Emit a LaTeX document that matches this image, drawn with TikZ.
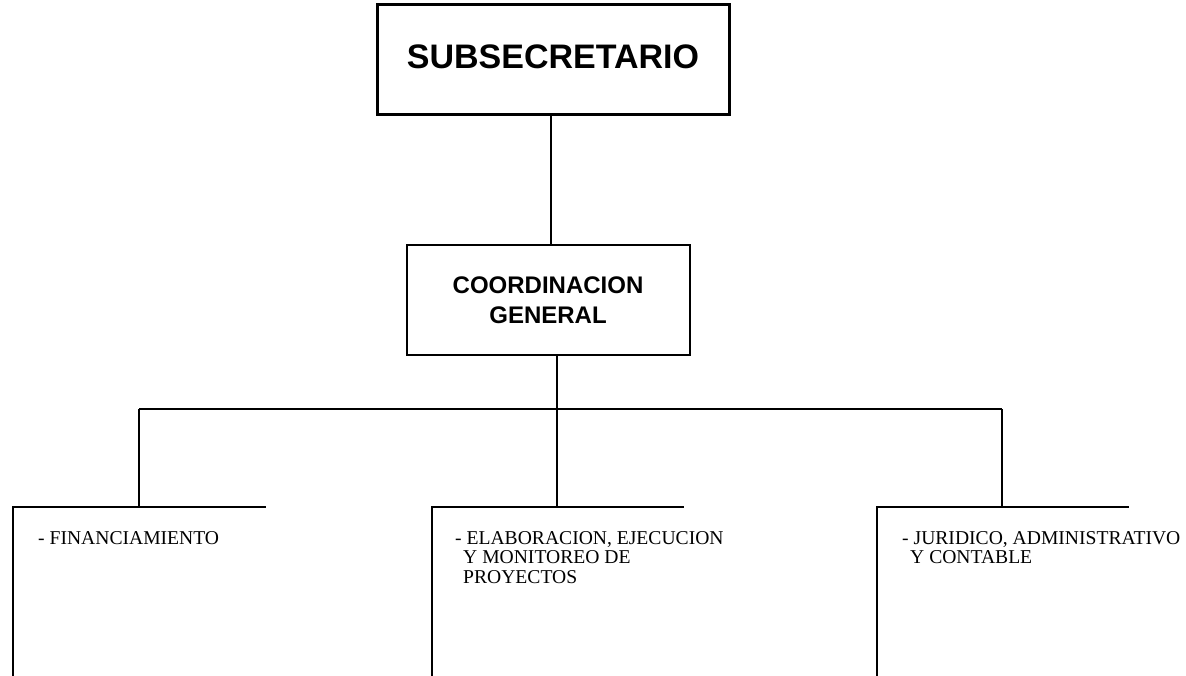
\documentclass[tikz,border=0pt]{standalone}
\usepackage{fontspec}
\setmainfont{Liberation Serif}
\newfontfamily\arialfont{Liberation Sans}
\begin{document}
\begin{tikzpicture}[x=1pt,y=-1pt,
  topbox/.style={draw, rectangle, inner sep=0pt, align=center},
  conn/.style={line width=2pt},
  unit/.style={line width=2pt, line cap=rect},
  unittext/.style={anchor=north west, inner sep=0pt, align=left, font=\fontsize{19.6}{19.7}\selectfont}]
\useasboundingbox (0,0) rectangle (1186,675);
\node[topbox, line width=3pt, minimum width=352pt, minimum height=110pt,
  font=\arialfont\bfseries\fontsize{34}{40}\selectfont] (sub) at (553,59)
  {\raisebox{4pt}{SUBSECRETARIO}};
\node[topbox, line width=2pt, minimum width=283pt, minimum height=110pt,
  font=\arialfont\bfseries\fontsize{24}{30}\selectfont] (coord) at (548,300)
  {COORDINACION\\GENERAL};
% connectors
\coordinate (subout) at (551,114);
\draw[conn] (subout) -- (subout |- coord.north);
\coordinate (coordout) at (557,355);
\coordinate (lbar) at (139,409);
\coordinate (rbar) at (1002,409);
\coordinate (fin) at (139,507);
\coordinate (ela) at (557,507);
\coordinate (jur) at (1002,507);
\draw[conn] (coordout) -- (ela);
\draw[conn] (lbar) -- (rbar);
\draw[conn] (lbar) -- (fin);
\draw[conn] (rbar) -- (jur);
% lower units
\draw[unit] (13,675) -- (13,507) -- (265,507);
\draw[unit] (432,675) -- (432,507) -- (683,507);
\draw[unit] (877,675) -- (877,507) -- (1128,507);
\node[unittext] (t1) at (38,531) {- FINANCIAMIENTO};
\node[unittext] (t2) at (455,531) {- ELABORACION, EJECUCION\\\hspace*{8pt}Y MONITOREO DE\\\hspace*{8pt}PROYECTOS};
\node[unittext] (t3) at (902,531) {- JURIDICO, ADMINISTRATIVO\\\hspace*{8pt}Y CONTABLE};
\end{tikzpicture}
\end{document}
